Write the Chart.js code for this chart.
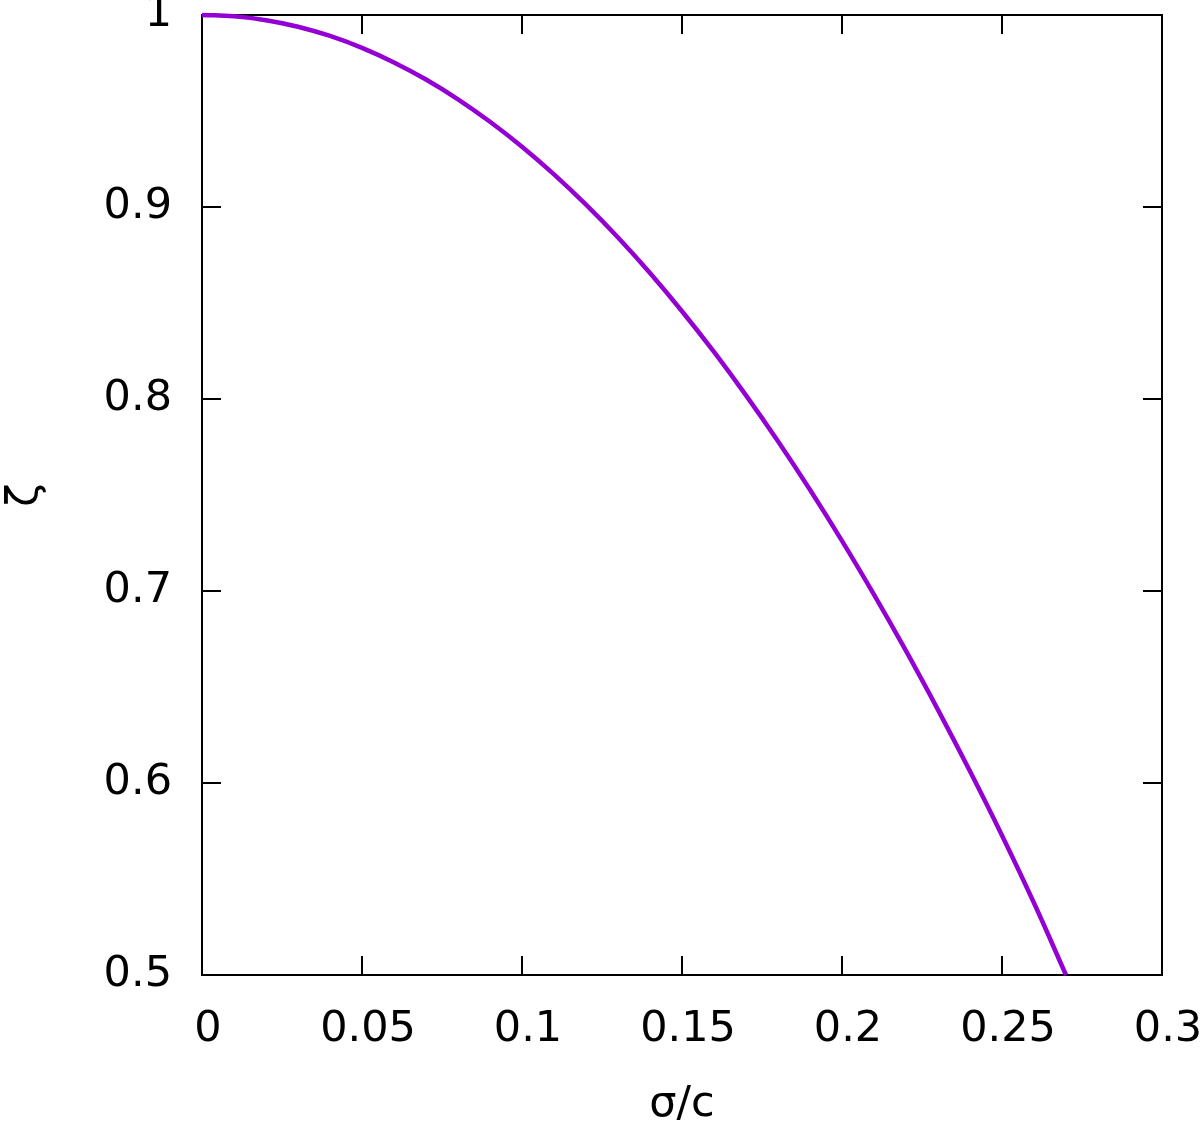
<!DOCTYPE html>
<html>
<head>
<meta charset="utf-8">
<script src="https://cdn.jsdelivr.net/npm/chart.js@4/dist/chart.umd.min.js"></script>
<style>
  html,body{margin:0;padding:0;background:#fff;}
  #wrap{width:1200px;height:1123px;}
</style>
</head>
<body>
<div id="wrap"><canvas id="c" width="1200" height="1123"></canvas></div>
<script>
/* values */
const sigmaC = [0,0.01,0.02,0.03,0.04,0.05,0.06,0.07,0.08,0.09,0.10,0.11,0.12,0.13,
                0.14,0.15,0.16,0.17,0.18,0.19,0.20,0.21,0.22,0.23,0.24,0.25,0.26,0.27];
const zeta   = [1.000,0.9993,0.9973,0.9939,0.9891,0.9829,0.9753,0.9664,0.9561,0.9444,
                0.9314,0.9170,0.9012,0.8841,0.8656,0.8457,0.8245,0.8019,0.7780,0.7527,
                0.7261,0.6981,0.6688,0.6381,0.6061,0.5727,0.5375,0.5000];

const xTicks      = [0,0.05,0.1,0.15,0.2,0.25,0.3];
const xTickLabels = ['0','0.05','0.1','0.15','0.2','0.25','0.3'];
const yTicks      = [0.5,0.6,0.7,0.8,0.9,1];
const yTickLabels = ['0.5','0.6','0.7','0.8','0.9','1'];

const FONT = 'DejaVu Sans';

/* gnuplot-style frame with inward ticks on all four sides */
const frame = {
  id:'frame',
  beforeDatasetsDraw(chart){
    const {ctx, chartArea:a, scales:{x,y}} = chart;
    const tl = 19;
    ctx.save();
    ctx.strokeStyle = '#000';
    ctx.lineWidth = 2;
    ctx.beginPath();
    x.ticks.forEach(t=>{
      const px = Math.round(x.getPixelForValue(t.value));
      if(px<=a.left+1 || px>=a.right-1) return;
      ctx.moveTo(px,a.bottom); ctx.lineTo(px,a.bottom-tl);
      ctx.moveTo(px,a.top);    ctx.lineTo(px,a.top+tl);
    });
    y.ticks.forEach(t=>{
      const py = Math.round(y.getPixelForValue(t.value));
      if(py<=a.top+1 || py>=a.bottom-1) return;
      ctx.moveTo(a.left,py);  ctx.lineTo(a.left+tl,py);
      ctx.moveTo(a.right,py); ctx.lineTo(a.right-tl,py);
    });
    ctx.stroke();
    ctx.strokeRect(a.left, a.top, a.right-a.left, a.bottom-a.top);
    ctx.restore();
  }
};

new Chart(document.getElementById('c'),{
  type:'line',
  data:{
    datasets:[{
      data: sigmaC.map((v,i)=>({x:v, y:zeta[i]})),
      borderColor:'#9400D3',
      borderWidth:4.5,
      pointRadius:0,
      tension:0.4,
      clip:4
    }]
  },
  options:{
    responsive:false,
    animation:false,
    layout:{ padding:{ left:0, top:15, right:38, bottom:0 } },
    plugins:{ legend:{display:false}, tooltip:{enabled:false} },
    scales:{
      x:{
        type:'linear', min:0, max:0.3,
        afterBuildTicks: s => { s.ticks = xTicks.map(v=>({value:v})); },
        afterFit: s => { s.height = 148; s.paddingLeft = 0; s.paddingRight = 0; },
        grid:{ display:false, drawTicks:false },
        border:{ display:false },
        ticks:{
          callback:(v,i)=>xTickLabels[i],
          color:'#000', font:{family:FONT, size:43}, padding:29,
          labelOffset:6, maxRotation:0, autoSkip:false
        },
        title:{ display:true, text:'σ/c', color:'#000',
                font:{family:FONT, size:43}, padding:{top:24, bottom:-8} }
      },
      y:{
        type:'linear', min:0.5, max:1,
        afterBuildTicks: s => { s.ticks = yTicks.map(v=>({value:v})); },
        afterFit: s => { s.width = 202; s.paddingTop = 0; s.paddingBottom = 0; },
        grid:{ display:false, drawTicks:false },
        border:{ display:false },
        ticks:{
          callback:(v,i)=>yTickLabels[i],
          color:'#000', font:{family:FONT, size:43}, padding:30,
          autoSkip:false
        },
        title:{ display:true, text:'ζ', color:'#000',
                font:{family:FONT, size:43}, padding:{top:0, bottom:0} }
      }
    }
  },
  plugins:[frame]
});
</script>
</body>
</html>
